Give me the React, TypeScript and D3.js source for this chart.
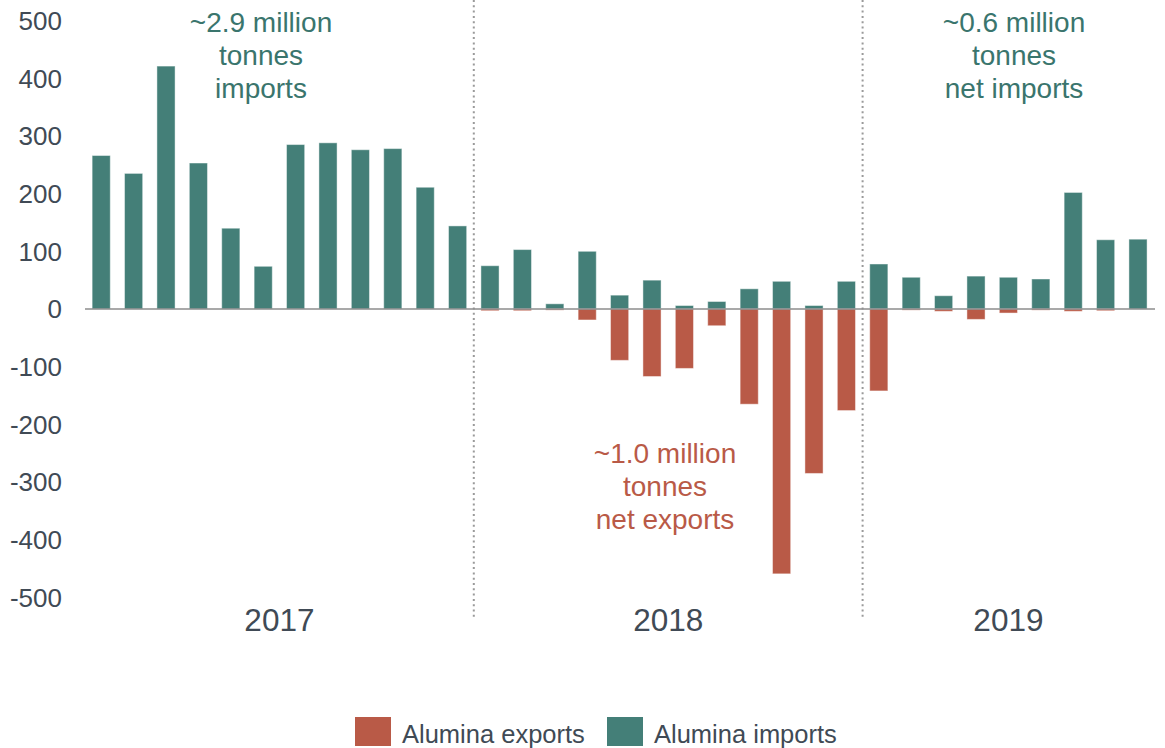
import React from "react";
import * as d3 from "d3";

const months = [
  "2017-01","2017-02","2017-03","2017-04","2017-05","2017-06","2017-07","2017-08","2017-09","2017-10","2017-11","2017-12",
  "2018-01","2018-02","2018-03","2018-04","2018-05","2018-06","2018-07","2018-08","2018-09","2018-10","2018-11","2018-12",
  "2019-01","2019-02","2019-03","2019-04","2019-05","2019-06","2019-07","2019-08","2019-09",
];
const imports = [
  266, 235, 421, 253, 140, 74, 285, 288, 276, 278, 211, 144,
  75, 103, 9, 100, 24, 50, 6, 13, 35, 48, 6, 48,
  78, 55, 23, 57, 55, 52, 202, 120, 121,
];
const exports_ = [
  0, 0, 0, 0, 0, 0, 0, 0, 0, 0, 0, 0,
  -3, -3, -2, -19, -89, -117, -103, -29, -165, -459, -285, -176,
  -142, -2, -4, -18, -7, -2, -4, -3, 0,
];
const years = ["2017", "2018", "2019"];
const yTicks = [500, 400, 300, 200, 100, 0, -100, -200, -300, -400, -500];
const seriesNames = ["Alumina exports", "Alumina imports"];

const TEAL = "#447f78";
const RED = "#b95a47";
const TEXT = "#404a55";
const FONT = "'Liberation Sans', Arial, sans-serif";

export default function App() {
  const W = 1165, H = 748;
  const x = d3
    .scaleBand<number>()
    .domain(months.map((_, i) => i))
    .range([85, 85 + 33 * 32.4])
    .paddingInner(0.44)
    .paddingOuter(0.22);
  const y = d3.scaleLinear().domain([-500, 500]).range([597.5, 20.5]);
  const bw = x.bandwidth();
  const step = x.step();

  const yearIdx = years.map((yr) =>
    months.map((m, i) => (m.startsWith(yr) ? i : -1)).filter((i) => i >= 0)
  );
  const yearCenter = (idx: number[]) =>
    ((x(idx[0]) as number) + (x(idx[idx.length - 1]) as number) + bw) / 2;
  const dividers = yearIdx.slice(1).map((idx) => (x(idx[0]) as number) - (step * 0.44) / 2);

  const annot = [
    { lines: ["~2.9 million", "tonnes", "imports"], cx: 261, y0: 31.5, color: "#3a756d" },
    { lines: ["~0.6 million", "tonnes", "net imports"], cx: 1014, y0: 31.5, color: "#3a756d" },
    { lines: ["~1.0 million", "tonnes", "net exports"], cx: 665, y0: 463, color: RED },
  ];

  return (
    <div style={{ position: "absolute", left: 0, top: 0 }}>
      <svg width={W} height={H} style={{ display: "block", background: "#fff" }} fontFamily={FONT}>
        {/* y tick labels */}
        {yTicks.map((t) => (
          <text key={t} x={62} y={y(t)} dy="0.36em" textAnchor="end" fontSize={26} fill={TEXT}>
            {t}
          </text>
        ))}
        {/* dividers */}
        {dividers.map((dx, i) => (
          <line key={i} x1={dx} x2={dx} y1={0} y2={619} stroke="#9a9a9a" strokeWidth={2} strokeDasharray="2 3.3" />
        ))}
        {/* imports bars */}
        {imports.map((v, i) => (
          <rect
            key={"i" + i}
            x={x(i)}
            y={y(Math.max(0, v))}
            width={bw}
            height={Math.abs(y(v) - y(0))}
            fill={TEAL}
            stroke="rgba(255,255,255,0.45)"
            strokeWidth={1}
          />
        ))}
        {/* exports bars */}
        {exports_.map((v, i) =>
          v === 0 ? null : (
            <rect
              key={"e" + i}
              x={x(i)}
              y={y(0)}
              width={bw}
              height={Math.abs(y(v) - y(0))}
              fill={RED}
              stroke="rgba(255,255,255,0.45)"
              strokeWidth={1}
            />
          )
        )}
        {/* zero line */}
        <line x1={85} x2={1155} y1={y(0)} y2={y(0)} stroke="#8c8c8c" strokeWidth={1.6} />
        {/* year labels */}
        {years.map((yr, i) => (
          <text key={yr} x={yearCenter(yearIdx[i])} y={631} textAnchor="middle" fontSize={31.5} fill={TEXT}>
            {yr}
          </text>
        ))}
        {/* annotations */}
        {annot.map((a, k) => (
          <text key={k} textAnchor="middle" fontSize={28} fill={a.color}>
            {a.lines.map((l, j) => (
              <tspan key={j} x={a.cx} y={a.y0 + j * 33}>
                {l}
              </tspan>
            ))}
          </text>
        ))}
        {/* legend */}
        {seriesNames.map((s, i) => {
          const lx = [355, 607][i];
          return (
            <g key={s}>
              <rect x={lx} y={717} width={36} height={29} fill={i === 0 ? RED : TEAL} />
              <text x={lx + 47} y={743} fontSize={25.5} fill={TEXT}>
                {s}
              </text>
            </g>
          );
        })}
      </svg>
    </div>
  );
}
